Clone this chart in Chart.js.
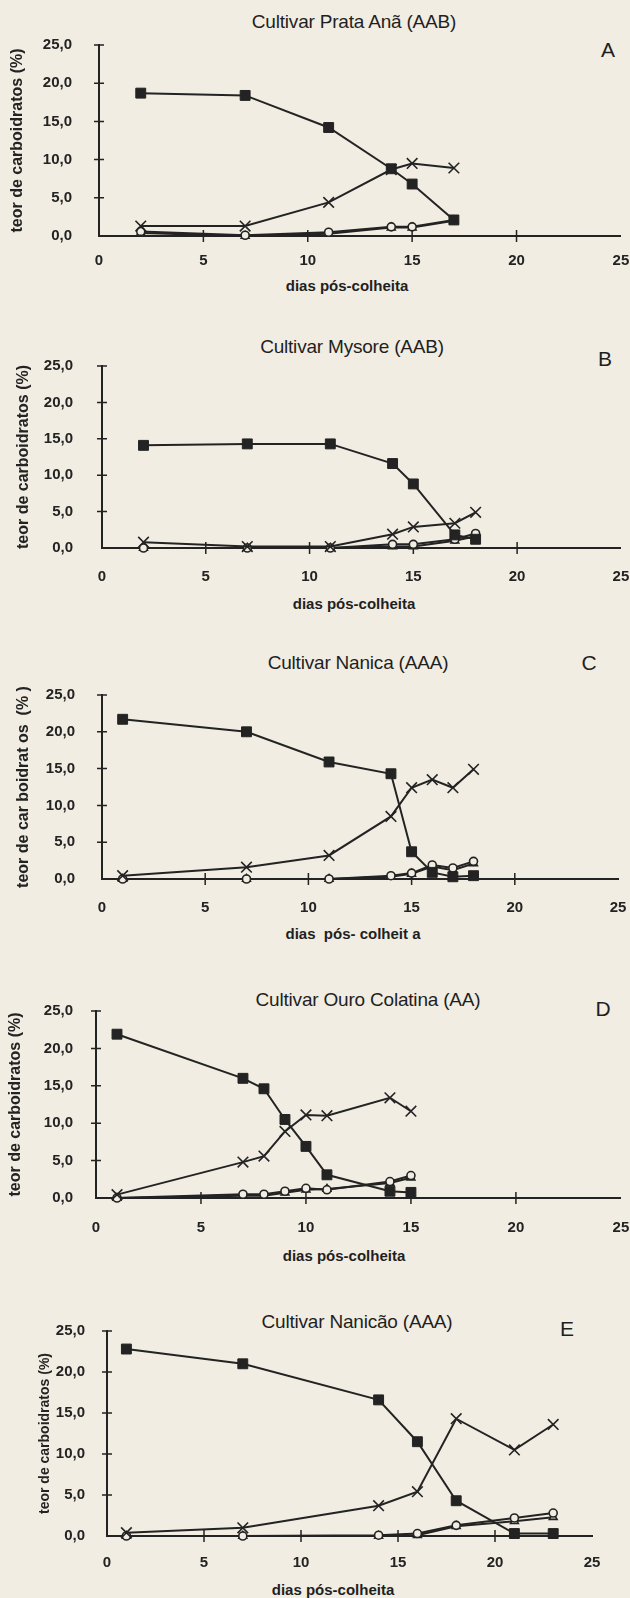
<!DOCTYPE html>
<html>
<head>
<meta charset="utf-8">
<script src="https://cdn.jsdelivr.net/npm/chart.js@4.4.1/dist/chart.umd.min.js"></script>
<style>
body { margin:0; background:#f1ede3; width:630px; height:1598px; position:relative; overflow:hidden;
       font-family:"Liberation Sans", Arial, sans-serif; color:#1f1f1f; }
canvas { position:absolute; left:0; }
.t { position:absolute; white-space:pre; transform:translate(-50%,-50%); }
.titulo { font-size:19px; letter-spacing:-0.2px; }
.letra { font-size:21px; }
.xlab { font-size:15px; font-weight:bold; }
</style>
</head>
<body>
<div class="t titulo" style="left:354px;top:22px">Cultivar Prata Anã (AAB)</div>
<div class="t letra" style="left:608px;top:50px">A</div>
<div class="t xlab" style="left:347px;top:285px">dias pós-colheita</div>

<div class="t titulo" style="left:352px;top:347px">Cultivar Mysore (AAB)</div>
<div class="t letra" style="left:605px;top:359px">B</div>
<div class="t xlab" style="left:354px;top:603px">dias pós-colheita</div>

<div class="t titulo" style="left:358px;top:663px">Cultivar Nanica (AAA)</div>
<div class="t letra" style="left:589px;top:663px">C</div>
<div class="t xlab" style="left:353px;top:933px">dias  pós- colheit a</div>

<div class="t titulo" style="left:368px;top:1000px">Cultivar Ouro Colatina (AA)</div>
<div class="t letra" style="left:603px;top:1009px">D</div>
<div class="t xlab" style="left:344px;top:1255px">dias pós-colheita</div>

<div class="t titulo" style="left:357px;top:1322px">Cultivar Nanicão (AAA)</div>
<div class="t letra" style="left:567px;top:1329px">E</div>
<div class="t xlab" style="left:333px;top:1589px">dias pós-colheita</div>

<script>
// teor de carboidratos (%) por dia pós-colheita, lido do gráfico
// quad = quadrado cheio, xis = x, circ = círculo aberto, tri = triângulo aberto
let diasA = [2, 7, 11, 14, 15, 17];
let quadA = [18.7, 18.4, 14.2, 8.8, 6.8, 2.1];
let xisA  = [1.3, 1.3, 4.4, 8.7, 9.5, 8.9];
let circA = [0.6, 0.1, 0.5, 1.2, 1.2, 2.1];
let triA  = [0.4, 0.0, 0.3, 1.1, 1.1, 2.0];

let diasB = [2, 7, 11, 14, 15, 17, 18];
let quadB = [14.1, 14.3, 14.3, 11.6, 8.8, 1.8, 1.2];
let xisB  = [0.8, 0.2, 0.2, 1.9, 2.9, 3.4, 4.9];
let circB = [0.0, 0.0, 0.0, 0.5, 0.5, 1.2, 2.0];
let triB  = [0.0, 0.0, 0.0, 0.2, 0.2, 1.0, 1.6];

let diasC = [1, 7, 11, 14, 15, 16, 17, 18];
let quadC = [21.7, 20.0, 15.9, 14.3, 3.7, 0.9, 0.3, 0.45];
let xisC  = [0.45, 1.6, 3.2, 8.5, 12.4, 13.5, 12.4, 14.9];
let circC = [0.0, 0.0, 0.0, 0.45, 0.8, 1.9, 1.5, 2.4];
let triC  = [0.0, 0.0, 0.0, 0.3, 0.7, 1.7, 1.2, 2.1];

let diasD = [1, 7, 8, 9, 10, 11, 14, 15];
let quadD = [21.9, 16.0, 14.6, 10.5, 6.9, 3.1, 0.9, 0.75];
let xisD  = [0.45, 4.8, 5.6, 8.9, 11.1, 11.0, 13.4, 11.6];
let circD = [0.0, 0.5, 0.5, 0.9, 1.3, 1.1, 2.2, 3.0];
let triD  = [0.0, 0.3, 0.3, 0.7, 1.1, 1.2, 2.0, 2.7];

let diasE = [1, 7, 14, 16, 18, 21, 23];
let quadE = [22.8, 21.0, 16.6, 11.5, 4.3, 0.3, 0.3];
let xisE  = [0.4, 1.0, 3.7, 5.4, 14.3, 10.5, 13.6];
let circE = [0.0, 0.0, 0.1, 0.3, 1.3, 2.2, 2.8];
let triE  = [0.0, 0.0, 0.0, 0.1, 1.2, 1.8, 2.3];

let xTicks = ['0', '5', '10', '15', '20', '25'];
let yTicks = ['0,0', '5,0', '10,0', '15,0', '20,0', '25,0'];

let tinta = '#232323';
let fundo = '#f1ede3';
let estilos = ['rect', 'crossRot', 'circle', 'triangle'];
let raios = [7, 7.5, 4, 4.5];

// posição de cada painel na página (área do gráfico)
let paineis = [
  { dias: diasA, series: [quadA, xisA, circA, triA], ytit: 'teor de carboidratos (%)', ytFont: 16,
    left: 99, right: 628, top: 45, bottom: 236, xpad: 16, ypad: 27, ytpad: 8 },
  { dias: diasB, series: [quadB, xisB, circB, triB], ytit: 'teor de carboidratos (%)', ytFont: 16,
    left: 102, right: 622, top: 366, bottom: 548, xpad: 20, ypad: 29, ytpad: 14 },
  { dias: diasC, series: [quadC, xisC, circC, triC], ytit: 'teor de car boidrat os  (% )', ytFont: 16,
    left: 102, right: 618, top: 695, bottom: 879, xpad: 20, ypad: 27, ytpad: 14 },
  { dias: diasD, series: [quadD, xisD, circD, triD], ytit: 'teor de carboidratos (%)', ytFont: 16,
    left: 96, right: 625, top: 1011, bottom: 1198, xpad: 21, ypad: 23, ytpad: 6 },
  { dias: diasE, series: [quadE, xisE, circE, triE], ytit: 'teor de carboidratos (%)', ytFont: 14,
    left: 107, right: 592, top: 1331, bottom: 1536, xpad: 18, ypad: 22, ytpad: 37 }
];

// marcas de escala que cruzam o eixo
let marcas = {
  id: 'marcas',
  beforeDatasetsDraw: function(chart) {
    let ctx = chart.ctx;
    let a = chart.chartArea;
    let sx = chart.scales.x, sy = chart.scales.y;
    ctx.save();
    ctx.strokeStyle = tinta;
    ctx.lineWidth = 1.5;
    ctx.beginPath();
    sx.ticks.forEach(function(t) {
      if (t.value === 0 || t.value === 25) return;
      let px = sx.getPixelForValue(t.value);
      ctx.moveTo(px, a.bottom - 6);
      ctx.lineTo(px, a.bottom + 6);
    });
    sy.ticks.forEach(function(t) {
      if (t.value === 0) return;
      let py = sy.getPixelForValue(t.value);
      ctx.moveTo(a.left - 5, py);
      ctx.lineTo(a.left + 5, py);
    });
    ctx.stroke();
    ctx.restore();
  }
};

function desenha(p) {
  let cv = document.createElement('canvas');
  let h = p.bottom - p.top + 12 + 48;
  cv.width = 630; cv.height = h;
  cv.style.top = (p.top - 12) + 'px';
  cv.style.width = '630px'; cv.style.height = h + 'px';
  document.body.appendChild(cv);

  let ds = p.series.map(function(vals, i) {
    return {
      data: p.dias.map(function(d, j) { return { x: d, y: vals[j] }; }),
      borderColor: tinta,
      borderWidth: 2,
      tension: 0,
      pointStyle: estilos[i],
      pointRadius: raios[i],
      pointBorderColor: tinta,
      pointBorderWidth: i === 0 ? 1 : 1.6,
      pointBackgroundColor: i === 0 ? tinta : fundo,
      clip: false
    };
  });

  new Chart(cv, {
    type: 'line',
    data: { datasets: ds },
    options: {
      responsive: false,
      animation: false,
      layout: { padding: { left: 0, right: 630 - p.right, top: 12, bottom: 0 } },
      plugins: { legend: { display: false }, tooltip: { enabled: false } },
      scales: {
        x: {
          type: 'linear', min: 0, max: 25,
          grid: { display: false, drawTicks: false },
          border: { display: true, color: tinta, width: 2 },
          ticks: {
            stepSize: 5, padding: p.xpad, color: tinta, maxRotation: 0,
            font: { family: 'Liberation Sans', size: 15, weight: 'bold' },
            callback: function(v) { return xTicks[v / 5]; }
          },
          afterFit: function(s) { s.height = 48; s.paddingLeft = 0; s.paddingRight = 0; }
        },
        y: {
          type: 'linear', min: 0, max: 25,
          grid: { display: false, drawTicks: false },
          border: { display: true, color: tinta, width: 2 },
          ticks: {
            stepSize: 5, padding: p.ypad, color: tinta,
            font: { family: 'Liberation Sans', size: 15, weight: 'bold' },
            callback: function(v) { return yTicks[v / 5]; }
          },
          title: {
            display: true, text: p.ytit, color: tinta,
            font: { family: 'Liberation Sans', size: p.ytFont, weight: 'bold' },
            padding: { top: p.ytpad, bottom: 0 }
          },
          afterFit: function(s) { s.width = p.left; s.paddingTop = 0; s.paddingBottom = 0; }
        }
      }
    },
    plugins: [marcas]
  });
}

paineis.forEach(desenha);
</script>
</body>
</html>
